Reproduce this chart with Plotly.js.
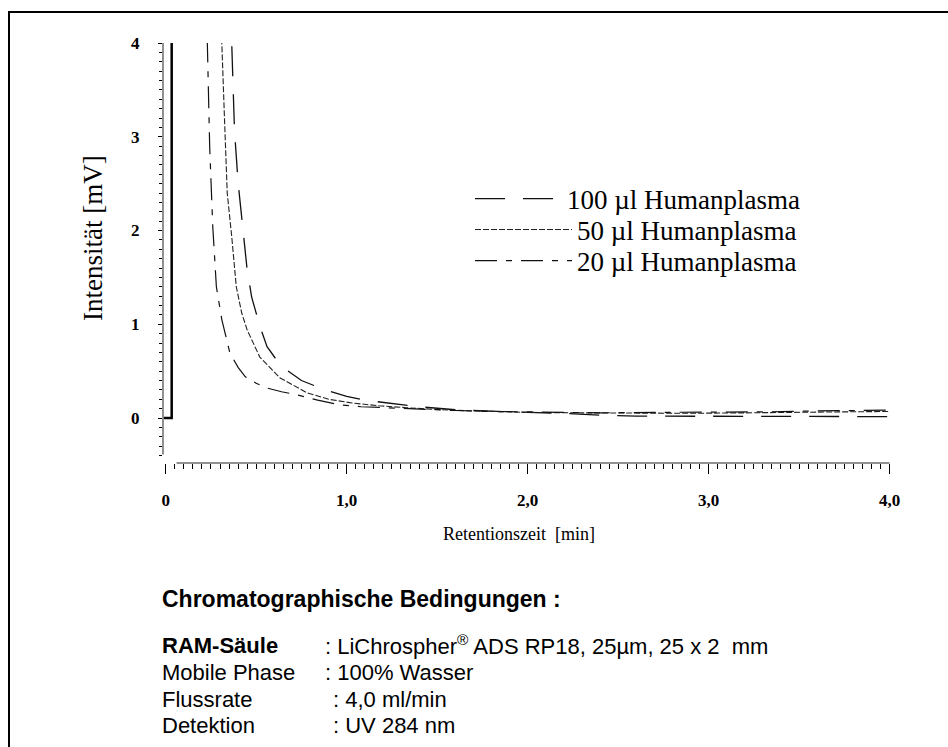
<!DOCTYPE html>
<html>
<head>
<meta charset="utf-8">
<script src="https://cdn.plot.ly/plotly-3.0.1.min.js"></script>
<style>html,body{margin:0;padding:0;background:#fff;}#chart{width:948px;height:747px;}</style>
</head>
<body>
<div id="chart"></div>
<script>
// ---- data ----
const seriesNames = ['100 µl Humanplasma', '50 µl Humanplasma', '20 µl Humanplasma'];

const time100 = [0.34, 0.365, 0.38, 0.40, 0.42, 0.45, 0.475, 0.52, 0.56, 0.62, 0.67, 0.75, 0.88, 1.0, 1.1, 1.22, 1.4, 1.62, 1.8, 2.0, 2.2, 2.4, 2.6, 2.8, 3.0, 3.2, 3.4, 3.6, 3.8, 4.0];
const value100 = [5.5, 4.0, 3.07, 2.51, 2.15, 1.58, 1.29, 0.98, 0.76, 0.60, 0.51, 0.40, 0.30, 0.23, 0.19, 0.16, 0.12, 0.085, 0.07, 0.06, 0.05, 0.03, 0.02, 0.02, 0.015, 0.02, 0.02, 0.02, 0.015, 0.015];

const time50 = [0.30, 0.31, 0.325, 0.34, 0.365, 0.39, 0.42, 0.45, 0.52, 0.63, 0.78, 0.9, 1.03, 1.18, 1.33, 1.5, 1.7, 2.0, 2.3, 2.6, 2.9, 3.2, 3.5, 3.8, 4.0];
const value50 = [5.5, 4.0, 3.18, 2.40, 1.93, 1.40, 1.12, 0.94, 0.65, 0.43, 0.27, 0.20, 0.16, 0.13, 0.11, 0.09, 0.075, 0.06, 0.055, 0.05, 0.05, 0.055, 0.06, 0.065, 0.07];

const time20 = [0.22, 0.23, 0.243, 0.26, 0.28, 0.31, 0.355, 0.40, 0.44, 0.50, 0.56, 0.64, 0.72, 0.84, 0.96, 1.08, 1.22, 1.4, 1.6, 1.8, 2.1, 2.4, 2.7, 3.0, 3.3, 3.6, 3.8, 4.0];
const value20 = [5.5, 4.0, 2.89, 2.04, 1.40, 1.05, 0.69, 0.54, 0.44, 0.37, 0.32, 0.28, 0.25, 0.19, 0.14, 0.12, 0.11, 0.095, 0.08, 0.07, 0.06, 0.055, 0.06, 0.06, 0.065, 0.075, 0.08, 0.085];

// injection spike
const spikeTime = [-0.01, 0.033, 0.033];
const spikeValue = [0.0, 0.0, 6.0];

const xTickVals = [0, 1, 2, 3, 4];
const xTickText = ['0', '1,0', '2,0', '3,0', '4,0'];
const yTickVals = [0, 1, 2, 3, 4];
const yTickText = ['0', '1', '2', '3', '4'];

const condTitle = 'Chromatographische Bedingungen :';
const condLabels = ['<b>RAM-Säule</b>', 'Mobile Phase', 'Flussrate', 'Detektion'];
const condValues = [': LiChrospher<sup>®</sup> ADS RP18, 25µm, 25 x 2  mm', ': 100% Wasser', ': 4,0 ml/min', ': UV 284 nm'];

// ---- layout helpers ----
const SERIF = 'Liberation Serif, Times New Roman, serif';
const SANS = 'Liberation Sans, Arial, Helvetica, sans-serif';
const L = 163, T = 43, W = 732, H = 420;
const px = x => (x - L) / W;
const py = y => (T + H - y) / H;

const traces = [
  {x: spikeTime, y: spikeValue, mode: 'lines', line: {color: '#000', width: 2.5}, showlegend: false, hoverinfo: 'skip'},
  {x: time100, y: value100, name: seriesNames[0], mode: 'lines', legend: 'legend',
   line: {color: '#111', width: 1.3, dash: '30px,18px'}},
  {x: time50, y: value50, name: seriesNames[1], mode: 'lines', legend: 'legend2',
   line: {color: '#222', width: 1.1, dash: '6px,2px'}},
  {x: time20, y: value20, name: seriesNames[2], mode: 'lines', legend: 'legend3',
   line: {color: '#111', width: 1.2, dash: '22px,9px,6px,9px'}}
];

const legendFont = {family: SERIF, size: 27, color: '#000'};
function mkLegend(yc, iw) {
  return {x: px(470), y: py(yc), xanchor: 'left', yanchor: 'middle', bgcolor: 'rgba(0,0,0,0)',
          borderwidth: 0, font: legendFont, itemwidth: iw};
}

const annotations = [
  {text: 'Intensität [mV]', xref: 'paper', yref: 'paper', x: px(93), y: py(238), textangle: -90,
   showarrow: false, xanchor: 'center', yanchor: 'middle', font: {family: SERIF, size: 27, color: '#000'}},
  {text: 'Retentionszeit  [min]', xref: 'paper', yref: 'paper', x: px(519), y: py(534),
   showarrow: false, xanchor: 'center', yanchor: 'middle', font: {family: SERIF, size: 18, color: '#000'}},
  {text: '<b>' + condTitle + '</b>', xref: 'paper', yref: 'paper', x: px(160), y: py(599),
   showarrow: false, xanchor: 'left', yanchor: 'middle', font: {family: SANS, size: 23, color: '#000'}}
];
const rowY = [645, 672, 699, 725];
const colonX = [323, 323, 331, 331];
condLabels.forEach((lab, i) => {
  annotations.push({text: lab, xref: 'paper', yref: 'paper', x: px(160), y: py(rowY[i]), showarrow: false,
    xanchor: 'left', yanchor: 'middle', font: {family: SANS, size: 22, color: '#000'}});
  annotations.push({text: condValues[i], xref: 'paper', yref: 'paper', x: px(colonX[i]), y: py(rowY[i]), showarrow: false,
    xanchor: 'left', yanchor: 'middle', font: {family: SANS, size: 22, color: '#000'}});
});

const shapes = [
  // outer frame
  {type: 'rect', xref: 'paper', yref: 'paper', x0: px(9), x1: px(1000), y0: py(800), y1: py(12),
   line: {color: '#000', width: 2}, layer: 'below'},
  // y axis line
  {type: 'line', xref: 'paper', yref: 'y', x0: 0, x1: 0, y0: -0.39, y1: 4.0, line: {color: '#222', width: 1}},
  // x axis line
  {type: 'line', xref: 'x', yref: 'paper', x0: 0.06, x1: 4.0, y0: 0, y1: 0, line: {color: '#222', width: 1}}
];

const tickFont = {family: SERIF, size: 17, color: '#000', weight: 'bold'};

const layout = {
  width: 948, height: 747,
  margin: {l: L, r: 948 - L - W, t: T, b: 747 - T - H},
  paper_bgcolor: '#fff', plot_bgcolor: '#fff',
  showlegend: true,
  legend: mkLegend(199, 87),
  legend2: mkLegend(230, 97),
  legend3: mkLegend(261, 97),
  xaxis: {range: [-0.015, 4.03], showgrid: false, zeroline: false, showline: false,
    tickvals: xTickVals, ticktext: xTickText, ticks: 'outside', ticklen: 10, tickcolor: '#000', tickwidth: 1,
    ticklabelstandoff: 12, tickfont: tickFont,
    minor: {dtick: 0.05, tick0: 0, ticks: 'outside', ticklen: 5, tickcolor: '#000', tickwidth: 1, showgrid: false}},
  yaxis: {range: [-0.48, 4.0], showgrid: false, zeroline: false, showline: false,
    tickvals: yTickVals, ticktext: yTickText, ticks: 'outside', ticklen: 4, tickcolor: '#000', tickwidth: 1,
    ticklabelstandoff: 15, tickfont: tickFont,
    minor: {dtick: 0.1, tick0: 0, ticks: 'outside', ticklen: 3, tickcolor: '#000', tickwidth: 1, showgrid: false}},
  annotations: annotations,
  shapes: shapes
};

Plotly.newPlot('chart', traces, layout, {displayModeBar: false, staticPlot: true});
</script>
</body>
</html>
